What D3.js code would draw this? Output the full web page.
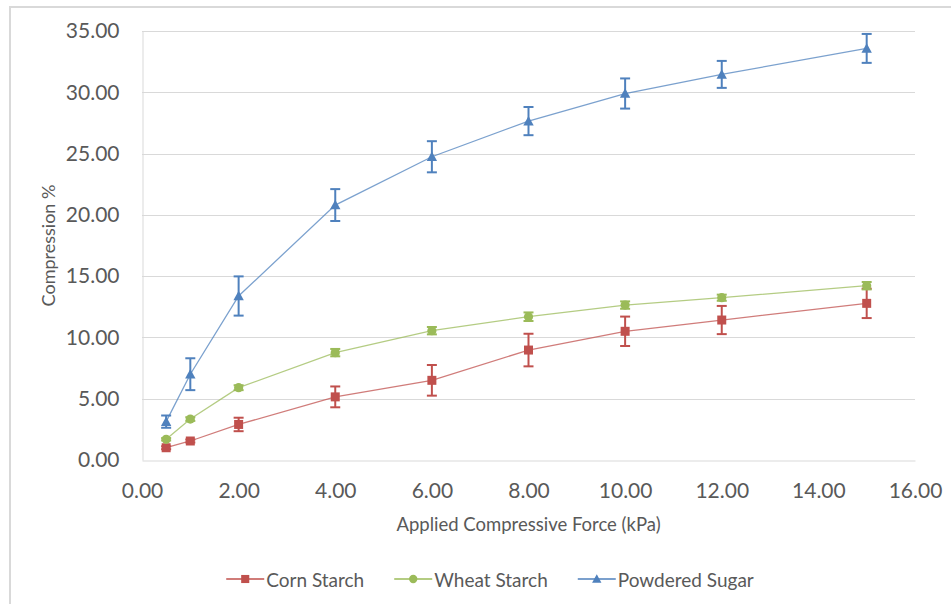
<!DOCTYPE html>
<html>
<head>
<meta charset="utf-8">
<script src="https://cdn.jsdelivr.net/npm/d3@7"></script>
<style>
  body { margin: 0; background: #fff; }
  svg { display: block; }
  text { font-family: Lato, "Open Sans", sans-serif; fill: #595959; }
</style>
</head>
<body>
<svg id="chart" width="951" height="604"></svg>
<script>
// Applied compressive force (kPa)
const forces = [0.5, 1, 2, 4, 6, 8, 10, 12, 15];

// Compression % per powder, with standard deviation
const cornStarch       = [1.00, 1.55, 2.90, 5.15, 6.50, 8.97, 10.50, 11.42, 12.78];
const cornStarchErr    = [0.12, 0.12, 0.55, 0.85, 1.25, 1.33, 1.20, 1.15, 1.20];
const wheatStarch      = [1.69, 3.34, 5.90, 8.76, 10.55, 11.69, 12.64, 13.24, 14.22];
const wheatStarchErr   = [0.10, 0.15, 0.20, 0.30, 0.30, 0.35, 0.30, 0.25, 0.30];
const powderedSugar    = [3.13, 7.00, 13.38, 20.80, 24.74, 27.65, 29.90, 31.46, 33.58];
const powderedSugarErr = [0.50, 1.30, 1.60, 1.30, 1.27, 1.15, 1.23, 1.10, 1.18];

const seriesNames = ["Corn Starch", "Wheat Starch", "Powdered Sugar"];

// Axis ticks
const xTicks = [0, 2, 4, 6, 8, 10, 12, 14, 16];
const yTicks = [0, 5, 10, 15, 20, 25, 30, 35];

const xTitle = "Applied Compressive Force (kPa)";
const yTitle = "Compression %";

const series = [
  { name: seriesNames[0], values: cornStarch,    errs: cornStarchErr,    color: "#C0504D", shape: "square" },
  { name: seriesNames[1], values: wheatStarch,   errs: wheatStarchErr,   color: "#9BBB59", shape: "circle" },
  { name: seriesNames[2], values: powderedSugar, errs: powderedSugarErr, color: "#4F81BD", shape: "triangle" }
];

const svg = d3.select("#chart");

// Chart area frame
svg.append("rect")
  .attr("x", 10).attr("y", 7)
  .attr("width", 980).attr("height", 640)
  .attr("fill", "none")
  .attr("stroke", "#D9D9D9")
  .attr("stroke-width", 2);

const plot = { left: 142, right: 915, top: 31, bottom: 460 };

const x = d3.scaleLinear().domain([0, 16]).range([plot.left, plot.right]);
const y = d3.scaleLinear().domain([0, 35]).range([plot.bottom, plot.top]);

// Horizontal gridlines
svg.append("g")
  .selectAll("line")
  .data(yTicks.filter(d => d > 0))
  .join("line")
  .attr("x1", plot.left).attr("x2", plot.right)
  .attr("y1", d => Math.round(y(d)) + 0.5).attr("y2", d => Math.round(y(d)) + 0.5)
  .attr("stroke", "#D9D9D9")
  .attr("stroke-width", 1);

// Y axis
const yAxis = svg.append("g")
  .attr("transform", `translate(${plot.left + 0.5},0)`)
  .call(d3.axisLeft(y).tickValues(yTicks).tickFormat(d3.format(".2f")).tickSize(0).tickPadding(23));
yAxis.select(".domain").attr("stroke", "#D9D9D9");
yAxis.selectAll("text").attr("font-size", 21).attr("fill", "#595959")
  .style("font-family", "Lato, 'Open Sans', sans-serif");

// X axis
const xAxis = svg.append("g")
  .attr("transform", `translate(0,${plot.bottom + 0.5})`)
  .call(d3.axisBottom(x).tickValues(xTicks).tickFormat(d3.format(".2f")).tickSize(0).tickPadding(23));
xAxis.select(".domain").attr("stroke", "#D9D9D9");
xAxis.selectAll("text").attr("font-size", 21).attr("fill", "#595959")
  .style("font-family", "Lato, 'Open Sans', sans-serif");

// Axis titles
svg.append("text")
  .attr("x", (plot.left + plot.right) / 2)
  .attr("y", 524)
  .attr("text-anchor", "middle")
  .attr("dominant-baseline", "central")
  .attr("font-size", 18.5)
  .text(xTitle);

svg.append("text")
  .attr("transform", `translate(48,${(plot.top + plot.bottom) / 2}) rotate(-90)`)
  .attr("text-anchor", "middle")
  .attr("dominant-baseline", "central")
  .attr("font-size", 18)
  .text(yTitle);

// Marker shapes
function markerPath(shape) {
  if (shape === "square") return "M-4.5,-4.5H4.5V4.5H-4.5Z";
  if (shape === "circle") return d3.symbol(d3.symbolCircle, Math.PI * 4.6 * 4.6)();
  return "M0,-5.2L5.2,4.3L-5.2,4.3Z";
}

const line = d3.line()
  .x(d => x(d.f))
  .y(d => y(d.v));

series.forEach(s => {
  const pts = forces.map((f, i) => ({ f, v: s.values[i], e: s.errs[i] }));
  const g = svg.append("g");

  g.append("path")
    .datum(pts)
    .attr("d", line)
    .attr("fill", "none")
    .attr("stroke", s.color)
    .attr("stroke-opacity", 0.75)
    .attr("stroke-width", 1.3);

  // Error bars
  const eb = g.append("g")
    .attr("stroke", s.color)
    .attr("stroke-width", 2);
  eb.selectAll("line.v")
    .data(pts).join("line").attr("class", "v")
    .attr("x1", d => x(d.f)).attr("x2", d => x(d.f))
    .attr("y1", d => y(d.v + d.e)).attr("y2", d => y(d.v - d.e));
  eb.selectAll("line.top")
    .data(pts).join("line").attr("class", "top")
    .attr("x1", d => x(d.f) - 5).attr("x2", d => x(d.f) + 5)
    .attr("y1", d => y(d.v + d.e)).attr("y2", d => y(d.v + d.e));
  eb.selectAll("line.bot")
    .data(pts).join("line").attr("class", "bot")
    .attr("x1", d => x(d.f) - 5).attr("x2", d => x(d.f) + 5)
    .attr("y1", d => y(d.v - d.e)).attr("y2", d => y(d.v - d.e));

  // Markers
  g.selectAll("path.m")
    .data(pts).join("path").attr("class", "m")
    .attr("d", markerPath(s.shape))
    .attr("transform", d => `translate(${x(d.f)},${y(d.v)})`)
    .attr("fill", s.color);
});

// Legend, centred below the plot
const legendY = 579;
const legend = svg.append("g");
let cursor = 0;
series.forEach(s => {
  const item = legend.append("g").attr("transform", `translate(${cursor},0)`);
  item.append("line")
    .attr("x1", 0).attr("x2", 38)
    .attr("y1", legendY).attr("y2", legendY)
    .attr("stroke", s.color).attr("stroke-width", 1.3);
  item.append("path")
    .attr("d", markerPath(s.shape))
    .attr("transform", `translate(19,${legendY}) scale(0.9)`)
    .attr("fill", s.color);
  const t = item.append("text")
    .attr("x", 40).attr("y", legendY)
    .attr("dominant-baseline", "central")
    .attr("font-size", 19)
    .text(s.name);
  const w = t.node().getComputedTextLength();
  cursor += 40 + w + 30;
});
const legendWidth = cursor - 30;
legend.attr("transform", `translate(${490 - legendWidth / 2},0)`);
</script>
</body>
</html>
